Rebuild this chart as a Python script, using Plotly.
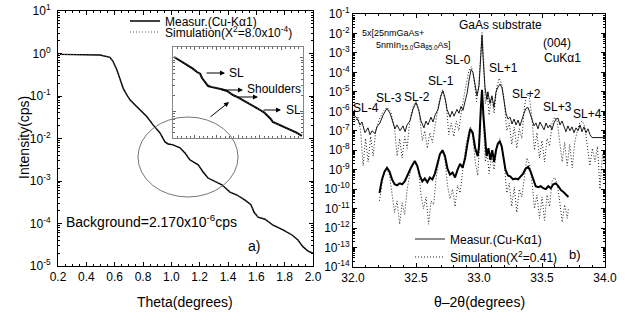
import plotly.graph_objects as go
import numpy as np

# ---------------- data: panel a) reflectivity ----------------
theta_meas = [0.214, 0.30, 0.377, 0.45, 0.496, 0.567, 0.589, 0.616, 0.638, 0.66, 0.687, 0.708, 0.744, 0.779,
              0.828, 0.871, 0.92, 0.955, 0.977, 1.012, 1.061, 1.096, 1.13, 1.19, 1.224, 1.259, 1.308, 1.357,
              1.414, 1.463, 1.52, 1.562, 1.583, 1.612, 1.661, 1.718, 1.788, 1.852, 1.894, 1.929, 1.965, 2.0]
logI_meas = [-0.02, -0.02, -0.025, -0.03, -0.035, -0.09, -0.19, -0.39, -0.62, -0.82, -0.98, -1.09, -1.21, -1.33,
             -1.49, -1.68, -1.87, -2.08, -2.13, -2.15, -2.22, -2.34, -2.5, -2.62, -2.79, -2.93, -3.02, -3.09,
             -3.26, -3.33, -3.45, -3.56, -3.73, -3.85, -3.9, -4.04, -4.15, -4.27, -4.39, -4.55, -4.65, -4.7]
theta_sim = [0.20, 0.30, 0.40, 0.50, 0.56, 0.585, 0.61, 0.635, 0.66, 0.685, 0.71, 0.745, 0.78, 0.83, 0.87,
             0.92, 0.955, 0.98, 1.01, 1.06, 1.10, 1.13, 1.19, 1.225, 1.26, 1.31, 1.36, 1.41, 1.46, 1.52,
             1.56, 1.585, 1.61, 1.66, 1.72, 1.79, 1.85, 1.89, 1.93, 1.965, 2.0]
logI_sim = [-0.02, -0.02, -0.025, -0.035, -0.08, -0.18, -0.37, -0.6, -0.8, -0.97, -1.08, -1.2, -1.32, -1.48,
            -1.66, -1.86, -2.06, -2.12, -2.14, -2.21, -2.33, -2.49, -2.61, -2.77, -2.92, -3.01, -3.08, -3.25,
            -3.32, -3.44, -3.55, -3.71, -3.84, -3.89, -4.03, -4.14, -4.26, -4.38, -4.53, -4.64, -4.69]

# inset (magnified view of the circled region)
theta_inset = [0.905, 0.935, 0.965, 0.99, 1.011, 1.025, 1.034, 1.05, 1.062, 1.08, 1.103, 1.125, 1.149, 1.177,
               1.2, 1.223, 1.245, 1.269, 1.29, 1.302, 1.32, 1.334, 1.35, 1.361, 1.38, 1.394, 1.42, 1.44, 1.47, 1.495]
logI_inset = [-1.987, -2.06, -2.136, -2.2, -2.267, -2.3, -2.379, -2.47, -2.529, -2.55, -2.566, -2.59, -2.622,
              -2.697, -2.74, -2.79, -2.84, -2.902, -2.94, -2.977, -3.02, -3.07, -3.14, -3.201, -3.235, -3.257,
              -3.3, -3.35, -3.4, -3.462]
theta_inset_sim = [0.905, 0.95, 0.99, 1.02, 1.05, 1.08, 1.11, 1.15, 1.19, 1.23, 1.27, 1.31, 1.34, 1.37, 1.40, 1.44, 1.495]
logI_inset_sim = [-1.98, -2.09, -2.19, -2.29, -2.46, -2.54, -2.57, -2.63, -2.72, -2.8, -2.9, -2.99, -3.08, -3.22,
                  -3.26, -3.35, -3.46]

# ---------------- data: panel b) HRXRD ----------------
tt_up_meas = [32.000, 32.016, 32.032, 32.056, 32.071, 32.095, 32.119, 32.135, 32.151, 32.175, 32.190, 32.214,
              32.238, 32.270, 32.294, 32.310, 32.333, 32.349, 32.373, 32.397, 32.413, 32.429, 32.452, 32.476,
              32.500, 32.524, 32.540, 32.563, 32.579, 32.595, 32.619, 32.635, 32.651, 32.675, 32.698, 32.714,
              32.730, 32.746, 32.770, 32.786, 32.802, 32.825, 32.841, 32.857, 32.873, 32.889, 32.905, 32.921,
              32.937, 32.952, 32.968, 32.984, 33.000, 33.016, 33.024, 33.032, 33.048, 33.063, 33.071, 33.087,
              33.103, 33.119, 33.135, 33.151, 33.167, 33.183, 33.198, 33.214, 33.230, 33.246, 33.262, 33.278,
              33.294, 33.310, 33.325, 33.341, 33.357, 33.373, 33.389, 33.405, 33.421, 33.437, 33.452, 33.468,
              33.484, 33.500, 33.516, 33.532, 33.548, 33.563, 33.579, 33.595, 33.611, 33.627, 33.643, 33.659,
              33.675, 33.690, 33.706, 33.722, 33.738, 33.754, 33.770, 33.786, 33.802, 33.817, 33.833, 33.849,
              33.865, 33.881, 33.897, 34.000]
log_up_meas = [-6.2, -6.25, -6.35, -6.7, -6.55, -7.1, -6.85, -7.2, -7.0, -7.15, -6.8, -6.6,
               -6.2, -5.85, -6.1, -6.45, -6.9, -6.7, -7.0, -6.75, -7.05, -6.7, -6.5, -5.9,
               -5.55, -6.0, -6.5, -6.85, -6.5, -6.7, -6.3, -6.55, -6.2, -5.9, -5.2, -4.95,
               -5.3, -5.9, -6.3, -6.0, -6.25, -5.9, -6.1, -5.75, -5.95, -5.5, -5.1, -4.4,
               -3.85, -4.0, -4.6, -5.2, -4.7, -3.0, -2.1, -3.2, -4.8, -5.4, -5.0, -5.6,
               -5.2, -5.8, -5.0, -4.75, -4.6, -4.8, -5.4, -6.1, -6.4, -6.3, -6.65, -6.4,
               -6.7, -6.45, -6.75, -6.4, -6.1, -5.85, -5.8, -6.1, -6.4, -6.75, -6.6, -6.9,
               -6.55, -6.8, -6.95, -6.6, -6.85, -6.7, -6.95, -6.6, -6.4, -6.35, -6.7, -6.5,
               -6.85, -7.05, -6.75, -7.0, -6.8, -7.1, -6.85, -7.0, -6.7, -7.05, -6.8, -7.1,
               -6.9, -7.2, -7.35, -7.35]
tt_up_sim = [32.00, 32.02, 32.04, 32.06, 32.08, 32.10, 32.12, 32.14, 32.16, 32.18, 32.21, 32.24, 32.27, 32.30,
             32.33, 32.35, 32.37, 32.39, 32.41, 32.43, 32.45, 32.48, 32.50, 32.52, 32.55, 32.57, 32.59, 32.61,
             32.63, 32.65, 32.68, 32.71, 32.74, 32.76, 32.78, 32.80, 32.82, 32.84, 32.86, 32.89, 32.92, 32.94,
             32.96, 32.98, 33.00, 33.015, 33.024, 33.035, 33.05, 33.065, 33.08, 33.10, 33.12, 33.14, 33.16,
             33.18, 33.20, 33.22, 33.24, 33.26, 33.28, 33.30, 33.32, 33.34, 33.36, 33.38, 33.40, 33.42, 33.44,
             33.46, 33.48, 33.50, 33.52, 33.54, 33.56, 33.58, 33.60, 33.62, 33.64, 33.66, 33.68, 33.70, 33.72,
             33.74, 33.76, 33.78, 33.80, 33.82, 33.84, 33.86, 33.88, 33.90, 33.92, 33.94, 33.96, 33.98, 34.00]
log_up_sim = [-6.3, -6.5, -6.3, -7.0, -8.8, -7.4, -8.6, -7.3, -8.3, -7.0, -6.4, -6.0, -5.8, -6.0,
              -6.9, -8.3, -7.4, -8.4, -7.3, -7.9, -6.5, -5.7, -5.5, -5.8, -7.5, -7.0, -7.9, -7.1,
              -7.6, -6.7, -5.6, -4.9, -5.6, -7.2, -6.6, -7.3, -6.5, -7.0, -6.0, -4.9, -3.9, -3.7,
              -4.3, -5.5, -4.6, -2.8, -1.95, -3.0, -5.6, -5.0, -6.2, -5.3, -6.1, -4.8, -4.3,
              -4.6, -5.4, -7.0, -6.6, -7.7, -6.8, -7.9, -6.9, -7.4, -5.8, -5.1, -5.3, -6.3, -8.0,
              -7.1, -8.4, -7.5, -8.6, -7.4, -7.8, -6.6, -6.3, -6.5, -7.5, -8.6, -7.6, -8.8, -7.7,
              -8.9, -7.6, -7.0, -6.6, -6.5, -6.8, -7.9, -8.8, -7.9, -8.6, -7.8, -10.0, -8.2, -8.6]
tt_lo_meas = [32.21, 32.23, 32.25, 32.27, 32.29, 32.31, 32.33, 32.35, 32.37, 32.39, 32.41, 32.43, 32.46, 32.49,
              32.51, 32.53, 32.55, 32.57, 32.59, 32.61, 32.63, 32.65, 32.67, 32.69, 32.71, 32.73, 32.75, 32.77,
              32.79, 32.81, 32.83, 32.85, 32.87, 32.89, 32.91, 32.93, 32.95, 32.97, 32.99, 33.00, 33.015, 33.024,
              33.035, 33.05, 33.06, 33.075, 33.09, 33.105, 33.12, 33.135, 33.15, 33.165, 33.18, 33.195, 33.21,
              33.23, 33.25, 33.27, 33.29, 33.31, 33.33, 33.35, 33.37, 33.39, 33.41, 33.43, 33.45, 33.47, 33.49,
              33.51, 33.53, 33.55, 33.57, 33.59, 33.61, 33.63, 33.65, 33.67, 33.69, 33.71]
log_lo_meas = [-10.2, -9.5, -9.1, -8.9, -9.1, -9.5, -9.75, -9.8, -9.7, -9.75, -9.6, -9.3, -8.9, -8.55,
               -8.8, -9.3, -9.6, -9.45, -9.65, -9.4, -9.5, -9.2, -8.7, -8.2, -8.0, -8.3, -8.95, -9.25,
               -9.15, -9.4, -9.0, -8.7, -8.9, -8.4, -7.6, -6.9, -7.1, -7.9, -8.3, -7.8, -5.8, -4.9,
               -6.2, -7.6, -8.3, -7.9, -8.5, -8.0, -8.6, -8.0, -7.65, -7.55, -7.8, -8.4, -9.0,
               -9.3, -9.35, -9.5, -9.45, -9.5, -9.35, -9.2, -8.95, -8.85, -9.1, -9.5, -9.85, -9.9, -9.85,
               -9.95, -10.0, -9.85, -9.95, -9.75, -9.7, -9.85, -10.05, -10.15, -10.3, -10.4]
tt_lo_sim = [32.21, 32.23, 32.25, 32.27, 32.29, 32.31, 32.33, 32.35, 32.37, 32.39, 32.41, 32.43, 32.46, 32.49,
             32.52, 32.54, 32.56, 32.58, 32.60, 32.62, 32.64, 32.66, 32.69, 32.71, 32.73, 32.75, 32.77, 32.79,
             32.81, 32.83, 32.85, 32.87, 32.90, 32.93, 32.95, 32.97, 32.99, 33.00, 33.015, 33.024, 33.035, 33.05,
             33.065, 33.08, 33.10, 33.12, 33.14, 33.165, 33.18, 33.20, 33.22, 33.24, 33.26, 33.28, 33.30, 33.32,
             33.34, 33.36, 33.38, 33.40, 33.42, 33.44, 33.46, 33.48, 33.50, 33.52, 33.54, 33.56, 33.58, 33.60,
             33.62, 33.64, 33.66, 33.68, 33.70, 33.71]
log_lo_sim = [-10.6, -9.7, -9.1, -8.95, -9.3, -10.2, -11.2, -10.6, -11.8, -10.7, -11.3, -10.0, -8.9, -8.6,
              -9.0, -10.3, -11.0, -10.4, -11.8, -10.6, -10.8, -9.4, -8.2, -8.0, -8.5, -9.8, -10.5, -10.0,
              -10.9, -9.8, -10.2, -9.1, -7.6, -6.8, -7.3, -8.6, -9.3, -8.2, -6.0, -5.0, -6.5, -8.6,
              -8.1, -9.2, -8.3, -9.0, -7.9, -7.4, -7.8, -8.6, -10.2, -9.7, -10.9, -9.9, -11.2, -10.0,
              -10.4, -9.3, -8.4, -8.7, -9.6, -11.0, -10.3, -11.5, -10.4, -11.6, -10.3, -10.9, -9.6, -9.4,
              -9.7, -10.6, -11.7, -10.8, -11.5, -11.0]

# tick labels
a_xticks = [0.2, 0.4, 0.6, 0.8, 1.0, 1.2, 1.4, 1.6, 1.8, 2.0]
a_ydecades = list(range(-5, 2))
b_xticks = [32.0, 32.5, 33.0, 33.5, 34.0]
b_ydecades = list(range(-14, 0))

W, H = 631, 320
FONT = "Liberation Sans, Arial, sans-serif"
DOT = "1px,2px"


def px(x):
    return x / W


def py(y):
    return 1 - y / H


def pw(v):
    return [10 ** t for t in v]


def minor_log(decs):
    vals = []
    for d in decs[:-1]:
        for m in range(2, 10):
            vals.append(m * 10 ** d)
    return vals


fig = go.Figure()

# panel a
fig.add_trace(go.Scatter(x=theta_meas, y=pw(logI_meas), mode="lines", name="Measur.(Cu-Kα1)",
                         line=dict(color="black", width=1.4), xaxis="x", yaxis="y", legend="legend"))
fig.add_trace(go.Scatter(x=theta_sim, y=pw(logI_sim), mode="lines", name="Simulation(X<sup>2</sup>=8.0x10<sup>-4</sup>)",
                         line=dict(color="#555", width=1, dash=DOT), xaxis="x", yaxis="y", legend="legend2"))
# inset
fig.add_trace(go.Scatter(x=theta_inset, y=pw(logI_inset), mode="lines", showlegend=False,
                         line=dict(color="black", width=2), xaxis="x3", yaxis="y3"))
fig.add_trace(go.Scatter(x=theta_inset_sim, y=pw(logI_inset_sim), mode="lines", showlegend=False,
                         line=dict(color="#666", width=1, dash=DOT), xaxis="x3", yaxis="y3"))

# panel b
fig.add_trace(go.Scatter(x=tt_up_sim, y=pw(log_up_sim), mode="lines", name="Simulation(X<sup>2</sup>=0.41)",
                         line=dict(color="#222", width=1, dash=DOT), xaxis="x2", yaxis="y2", legend="legend4"))
fig.add_trace(go.Scatter(x=tt_lo_sim, y=pw(log_lo_sim), mode="lines", showlegend=False,
                         line=dict(color="#222", width=1, dash=DOT), xaxis="x2", yaxis="y2"))
fig.add_trace(go.Scatter(x=tt_up_meas, y=pw(log_up_meas), mode="lines", name="Measur.(Cu-Kα1)",
                         line=dict(color="black", width=0.9), xaxis="x2", yaxis="y2", legend="legend3"))
fig.add_trace(go.Scatter(x=tt_lo_meas, y=pw(log_lo_meas), mode="lines", showlegend=False,
                         line=dict(color="black", width=2), xaxis="x2", yaxis="y2"))

axis_common = dict(showline=True, linecolor="black", linewidth=1, mirror="ticks", ticks="inside",
                   tickcolor="black", automargin=False,
                   showgrid=False, zeroline=False, tickfont=dict(size=12, color="black", family=FONT))

fig.update_layout(
    template="none",
    width=W, height=H, margin=dict(l=0, r=0, t=0, b=0, autoexpand=False),
    paper_bgcolor="white", plot_bgcolor="white",
    font=dict(family=FONT, size=12, color="black"),
    xaxis=dict(domain=[px(58), px(313)], range=[0.2, 2.0], tickvals=a_xticks,
               ticktext=["%.1f" % v for v in a_xticks], ticklen=4, anchor="y",
               minor=dict(tickvals=[round(0.2 + 0.05 * i, 2) for i in range(37)], ticklen=2, ticks="inside",
                          tickcolor="black"),
               **axis_common),
    yaxis=dict(domain=[py(266), py(11)], type="log", range=[-5, 1], anchor="x",
               tickvals=[10 ** d for d in a_ydecades], ticktext=["10<sup>%d</sup>" % d for d in a_ydecades],
               ticklen=4, minor=dict(tickvals=minor_log(a_ydecades), ticklen=2, ticks="inside", tickcolor="black"),
               ticklabelstandoff=4, **axis_common),
    xaxis2=dict(domain=[px(353), px(605)], range=[32, 34], tickvals=b_xticks,
                ticktext=["%.1f" % v for v in b_xticks], ticklen=4, anchor="y2",
                minor=dict(tickvals=[round(32 + 0.1 * i, 1) for i in range(21)], ticklen=2, ticks="inside",
                           tickcolor="black"),
                **axis_common),
    yaxis2=dict(domain=[py(267), py(14)], type="log", range=[-14, -1], anchor="x2",
                tickvals=[10 ** d for d in b_ydecades], ticktext=["10<sup>%d</sup>" % d for d in b_ydecades],
                ticklen=4, minor=dict(tickvals=minor_log(b_ydecades), ticklen=2, ticks="inside", tickcolor="black"),
                **axis_common),
    xaxis3=dict(domain=[px(173), px(303)], range=[0.9, 1.5], anchor="y3", showticklabels=False,
                showline=True, linecolor="#888", mirror="ticks", ticks="inside", ticklen=3, tickcolor="#666",
                dtick=0.1, showgrid=False, zeroline=False, automargin=False,
                minor=dict(dtick=0.02, ticklen=2, ticks="inside", tickcolor="#666")),
    yaxis3=dict(domain=[py(138), py(47)], type="log", range=[-3.5, -1.8], anchor="x3", showticklabels=False,
                showline=True, linecolor="#888", mirror="ticks", ticks="inside", ticklen=3, tickcolor="#666",
                tickvals=[1e-3, 1e-2], showgrid=False, zeroline=False, automargin=False,
                minor=dict(tickvals=minor_log([-4, -3, -2, -1]), ticklen=2, ticks="inside", tickcolor="#666")),
)

leg = dict(bgcolor="rgba(0,0,0,0)", borderwidth=0, xanchor="left", yanchor="middle",
           font=dict(size=12, family=FONT, color="black"), itemwidth=30)
fig.update_layout(
    legend=dict(x=px(125), y=py(21), **leg),
    legend2=dict(x=px(125), y=py(32), **leg),
    legend3=dict(x=px(410), y=py(239), **leg),
    legend4=dict(x=px(410), y=py(257), **leg),
)

ann = []


def text(x, y, s, size=12, xanchor="center"):
    ann.append(dict(x=px(x), y=py(y), xref="paper", yref="paper", text=s, showarrow=False,
                    font=dict(size=size, family=FONT, color="black"), xanchor=xanchor, yanchor="middle"))


def arrow(x0, y0, x1, y1):
    ann.append(dict(x=px(x1), y=py(y1), xref="paper", yref="paper", ax=x0 - x1, ay=y0 - y1,
                    text="", showarrow=True, arrowhead=2, arrowsize=1, arrowwidth=1, arrowcolor="black"))


# axis titles
ann.append(dict(x=px(24), y=py(138), xref="paper", yref="paper", text="Intensity(cps)", showarrow=False,
                textangle=-90, font=dict(size=14, family=FONT), xanchor="center", yanchor="middle"))
text(185, 302, "Theta(degrees)", 14)
text(479, 302, "θ–2θ(degrees)", 14)

# panel a texts
text(64, 221, "Background=2.170x10<sup>-6</sup>cps", 14, "left")
text(254, 246, "a)", 14)
arrow(205, 73, 225, 73)
text(227, 73, "SL", 12, "left")
arrow(220, 90, 243, 90)
text(245, 89, "Shoulders", 12, "left")
arrow(236, 97, 258, 97)
arrow(262, 110, 281, 110)
text(284, 110, "SL", 12, "left")
arrow(209, 118, 229, 102)

# panel b texts
text(360, 33, "5x[25nmGaAs+", 9, "left")
text(374, 45, "5nmIn<sub>15.0</sub>Ga<sub>85.0</sub>As]", 9, "left")
text(500, 25, "GaAs substrate", 12)
text(557, 43, "(004)", 12)
text(562, 58, "CuKα1", 12)
for lab, x, y in [("SL-0", 458, 60), ("SL+1", 504, 68), ("SL-1", 441, 81), ("SL-2", 417, 97),
                  ("SL-3", 389, 98), ("SL-4", 366, 108), ("SL+2", 526, 94), ("SL+3", 557, 107),
                  ("SL+4", 587, 114)]:
    text(x, y, lab, 12)
text(575, 254, "b)", 13)

fig.update_layout(annotations=ann)
fig.add_shape(type="circle", xref="paper", yref="paper", x0=px(138), x1=px(238), y0=py(197), y1=py(117),
              line=dict(color="#777", width=1))

fig.write_html("out.html", config={"displayModeBar": False},
               post_script="document.body.style.margin='0';document.body.style.overflow='hidden';")
